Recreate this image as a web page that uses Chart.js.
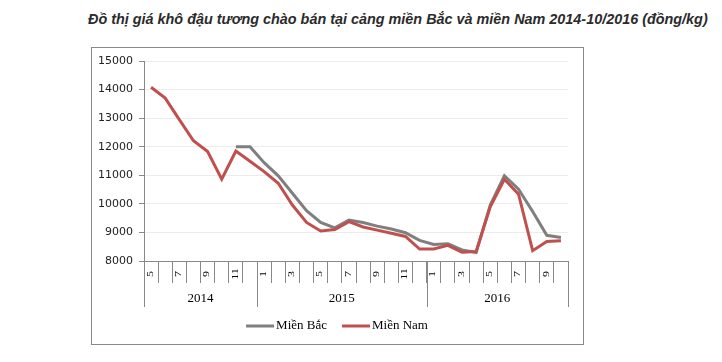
<!DOCTYPE html>
<html><head><meta charset="utf-8">
<script src="https://cdn.jsdelivr.net/npm/chart.js@4.4.0/dist/chart.umd.min.js"></script>
<style>
html,body{margin:0;padding:0;background:#fff;}
#wrap{position:relative;width:722px;height:362px;overflow:hidden;}
#title{position:absolute;left:88px;top:11px;font:italic bold 14.4px "Liberation Sans",Arial,sans-serif;color:#2b2b2b;white-space:nowrap;}
#frame{position:absolute;left:91px;top:47px;width:491px;height:296px;border:1px solid #888;}
canvas{position:absolute;left:0;top:0;}
</style></head><body>
<div id="wrap">
<div id="title">Đồ thị giá khô đậu tương chào bán tại cảng miền Bắc và miền Nam 2014-10/2016 (đồng/kg)</div>
<div id="frame"></div>
<canvas id="c" width="722" height="362"></canvas>
</div>
<script>
const categories = ['5/2014','6/2014','7/2014','8/2014','9/2014','10/2014','11/2014','12/2014',
 '1/2015','2/2015','3/2015','4/2015','5/2015','6/2015','7/2015','8/2015','9/2015','10/2015','11/2015','12/2015',
 '1/2016','2/2016','3/2016','4/2016','5/2016','6/2016','7/2016','8/2016','9/2016','10/2016'];
const monthLabels = ['5','','7','','9','','11','',
 '1','','3','','5','','7','','9','','11','',
 '1','','3','','5','','7','','9',''];
const years = ['2014','2015','2016'];
const yearSpans = [8,12,10];
const mienBac = [null,null,null,null,null,null,12000,12000,
 11440,10980,10370,9760,9350,9160,9430,9350,9220,9120,8990,8720,
 8580,8600,8390,8300,9960,10980,10510,9730,8900,8820];
const mienNam = [14080,13700,12950,12210,11830,10860,11850,11490,
 11130,10720,9960,9350,9050,9100,9380,9190,9080,8970,8860,8420,
 8420,8550,8310,8330,9900,10860,10340,8360,8680,8710];
const yMin = 8000, yMax = 15000, yStep = 1000;

const axisPlugin = {
  id: 'multiAxis',
  afterDraw(chart) {
    const ctx = chart.ctx, x = chart.scales.x;
    ctx.save();
    ctx.fillStyle = '#000';
    ctx.textAlign = 'center';
    ctx.textBaseline = 'middle';
    ctx.font = '12px "Liberation Serif", "Times New Roman", serif';
    monthLabels.forEach((t, i) => {
      if (!t) return;
      const px = x.getPixelForValue(i);
      ctx.save();
      ctx.translate(px - 0.5, 274);
      ctx.rotate(-Math.PI / 2);
      ctx.scale(1, 0.7);
      ctx.fillText(t, 0, 0);
      ctx.restore();
    });
    const bounds = [0];
    let acc = 0;
    yearSpans.forEach(n => { acc += n; bounds.push(acc); });
    ctx.strokeStyle = '#888';
    ctx.lineWidth = 1;
    bounds.forEach(b => {
      const px = Math.round(x.getPixelForValue(b - 0.5)) + 0.5;
      ctx.beginPath();
      ctx.moveTo(px, x.top);
      ctx.lineTo(px, 307);
      ctx.stroke();
    });
    ctx.font = '13px "Liberation Serif", "Times New Roman", serif';
    years.forEach((y, k) => {
      const a = x.getPixelForValue(bounds[k] - 0.5);
      const b = x.getPixelForValue(bounds[k + 1] - 0.5);
      ctx.fillText(y, (a + b) / 2, 299);
    });
    // legend
    const ds = chart.data.datasets;
    const lineW = 28, gapT = 2, gapItem = 15;
    const widths = ds.map(d => ctx.measureText(d.label).width);
    let total = 0;
    widths.forEach((w, i) => { total += lineW + gapT + w + (i < widths.length - 1 ? gapItem : 0); });
    let lx = 337 - total / 2;
    const ly = 326;
    ctx.textAlign = 'left';
    ds.forEach((d, i) => {
      ctx.strokeStyle = d.borderColor;
      ctx.lineWidth = 3;
      ctx.beginPath();
      ctx.moveTo(lx, ly);
      ctx.lineTo(lx + lineW, ly);
      ctx.stroke();
      ctx.fillStyle = '#000';
      ctx.fillText(d.label, lx + lineW + gapT, ly);
      lx += lineW + gapT + widths[i] + gapItem;
    });
    ctx.restore();
  }
};

new Chart(document.getElementById('c').getContext('2d'), {
  type: 'line',
  data: {
    labels: categories,
    datasets: [
      { label: 'Miền Bắc', data: mienBac, borderColor: '#7f7f7f', borderWidth: 3, pointRadius: 0, tension: 0, order: 1, spanGaps: false },
      { label: 'Miền Nam', data: mienNam, borderColor: '#c0504d', borderWidth: 3, pointRadius: 0, tension: 0, order: 0 }
    ]
  },
  options: {
    responsive: false, animation: false, devicePixelRatio: 1,
    layout: { padding: { left: 0, right: 154, top: 61, bottom: 0 } },
    plugins: { legend: { display: false }, title: { display: false }, tooltip: { enabled: false } },
    scales: {
      x: {
        offset: true,
        grid: { offset: true, drawOnChartArea: false, tickLength: 22, color: '#888', tickColor: '#888' },
        border: { color: '#888' },
        ticks: { display: false, autoSkip: false },
        afterFit(s) { s.height = 101; }
      },
      y: {
        min: yMin, max: yMax,
        ticks: { stepSize: yStep, font: { family: 'DejaVu Sans', size: 11 }, color: '#222', padding: 6,
                 callback: v => String(v) },
        grid: { color: '#ececec', tickColor: '#888', tickLength: 5 },
        border: { color: '#888' },
        afterFit(s) { s.width = 144; }
      }
    }
  },
  plugins: [axisPlugin]
});
</script>
</body></html>
